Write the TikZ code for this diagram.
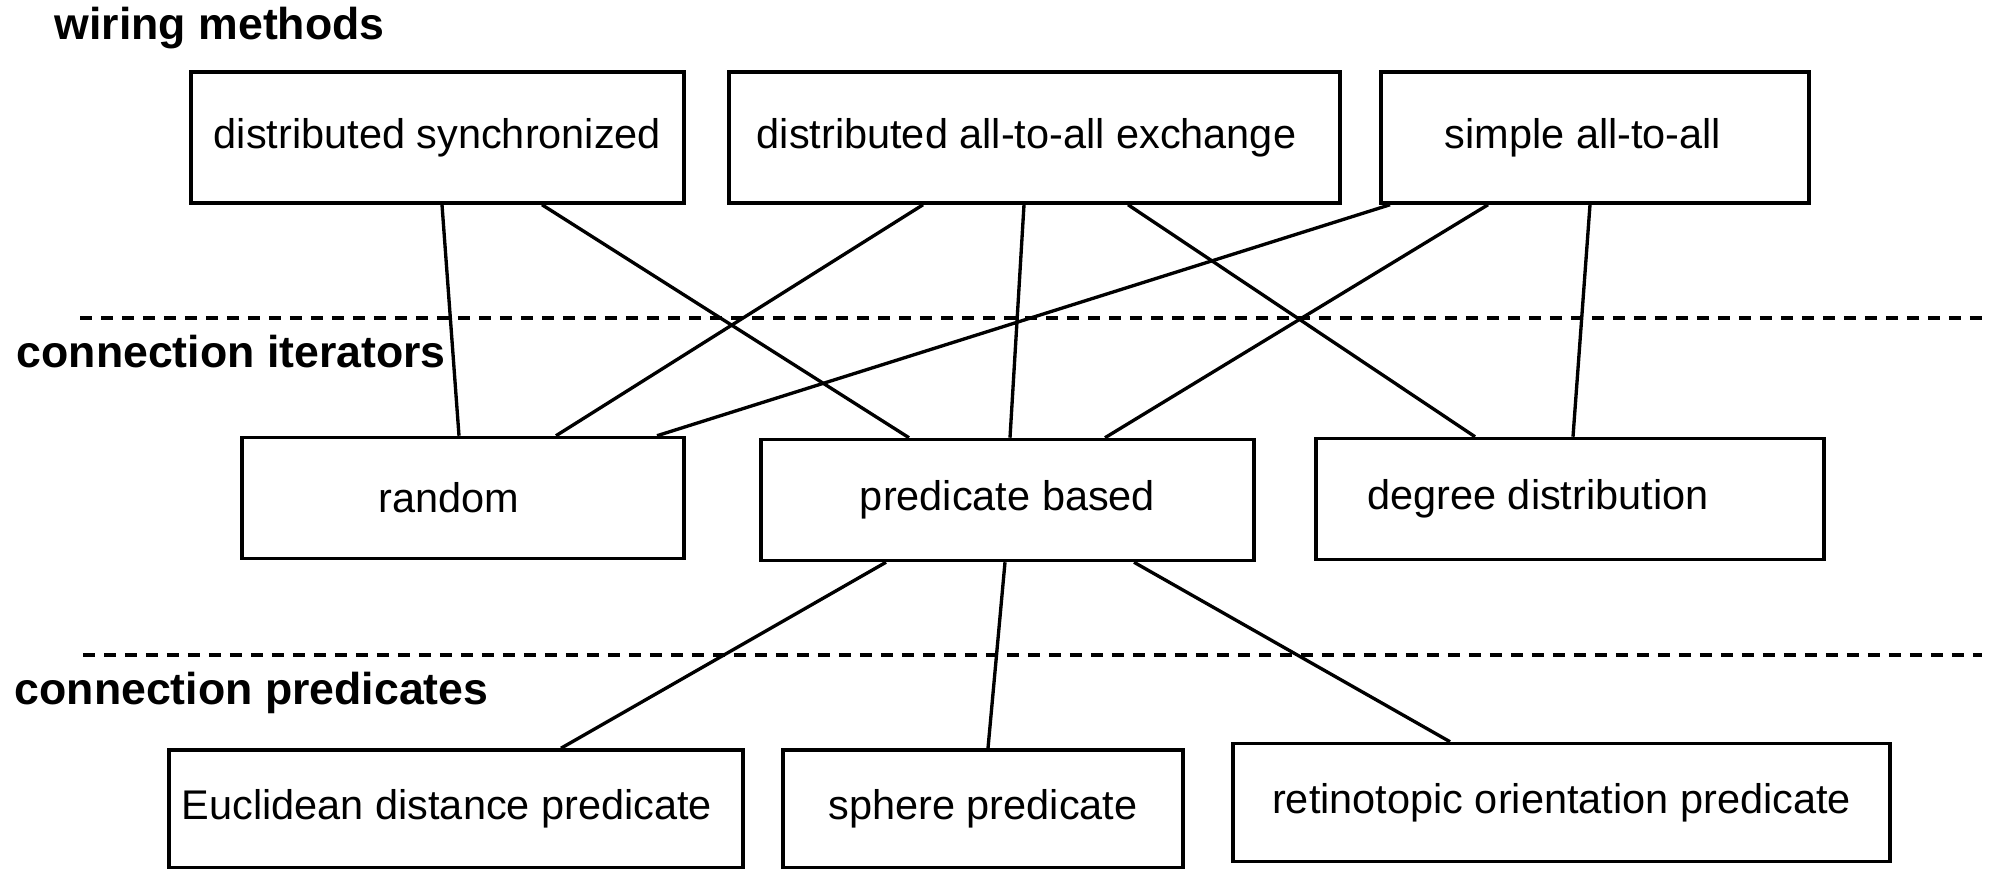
\documentclass[tikz,border=0pt]{standalone}
\usepackage{fontspec}
\setmainfont{Liberation Sans}
\usepackage{tikz}
\usetikzlibrary{positioning}

\begin{document}
\begin{tikzpicture}[
        box/.style={rectangle, draw=black, line width=1pt, fill=white, align=center, font=\fontsize{11.8}{14}\selectfont, inner sep=0pt},
        top/.style={box, minimum height=1.31cm},
        mid/.style={box, minimum height=1.21cm},
        bot/.style={box, minimum height=1.18cm},
        layer/.style={anchor=base west, inner sep=0pt, font=\fontsize{12.7}{15}\selectfont\bfseries},
        sep/.style={line width=0.95pt, dash pattern=on 0.12cm off 0.09cm},
        line/.style={line width=0.95pt}
    ]
        \useasboundingbox (0,0) rectangle (20,8.69);

        % Wiring methods (top)
        \node[layer] (wlab) at (0.54,8.29) {wiring methods};
        \node[top, minimum width=4.93cm] (ds) at (4.375,7.315) {distributed synchronized};
        \node[top, minimum width=6.11cm] (da) at (10.345,7.315) {distributed all-to-all exchange\hspace{0.16cm}};
        \node[top, minimum width=4.28cm] (sa) at (15.95,7.315) {simple all-to-all\hspace{0.24cm}};

        % Connection iterators (middle)
        \node[layer] (ilab) at (0.16,5.01) {connection iterators};
        \node[mid, minimum width=4.42cm] (rand) at (4.63,3.71) {random\hspace{0.28cm}};
        \node[mid, minimum width=4.93cm] (pb) at (10.075,3.69) {predicate based};
        \node[mid, minimum width=5.08cm] (dd) at (15.70,3.70) {degree distribution\hspace{0.64cm}};

        % Connection predicates (bottom)
        \node[layer] (plab) at (0.14,1.64) {connection predicates};
        \node[bot, minimum width=5.74cm] (euc) at (4.56,0.60) {Euclidean distance predicate\hspace{0.18cm}};
        \node[bot, minimum width=4.00cm] (sph) at (9.83,0.60) {sphere predicate};
        \node[bot, minimum width=6.57cm] (ret) at (15.615,0.665) {retinotopic orientation predicate};

        % Separators
        \draw[sep] (0.80,5.51) -- (19.82,5.51);
        \draw[sep] (0.83,2.14) -- (19.82,2.14);

        % Connections
        \draw[line] ([xshift=0.045cm]ds.south) -- ([xshift=-0.04cm]rand.north);
        \draw[line] ([xshift=1.045cm]ds.south) -- ([xshift=-0.985cm]pb.north);
        \draw[line] ([xshift=-1.115cm]da.south) -- ([xshift=0.93cm]rand.north);
        \draw[line] ([xshift=-0.105cm]da.south) -- ([xshift=0.025cm]pb.north);
        \draw[line] ([xshift=0.935cm]da.south) -- ([xshift=-0.95cm]dd.north);
        \draw[line] ([xshift=-2.05cm]sa.south) -- ([xshift=1.94cm]rand.north);
        \draw[line] ([xshift=-1.07cm]sa.south) -- ([xshift=0.975cm]pb.north);
        \draw[line] ([xshift=-0.05cm]sa.south) -- ([xshift=0.03cm]dd.north);
        \draw[line] ([xshift=-1.215cm]pb.south) -- ([xshift=1.05cm]euc.north);
        \draw[line] ([xshift=-0.025cm]pb.south) -- ([xshift=0.05cm]sph.north);
        \draw[line] ([xshift=1.265cm]pb.south) -- ([xshift=-1.115cm]ret.north);
    \end{tikzpicture}
\end{document}
